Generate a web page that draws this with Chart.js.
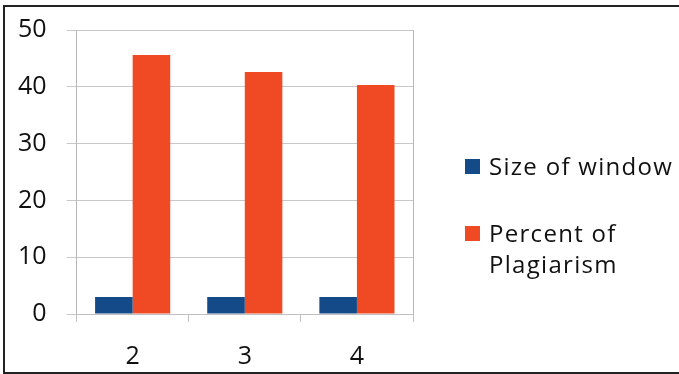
<!DOCTYPE html>
<html>
<head>
<meta charset="utf-8">
<script src="https://cdn.jsdelivr.net/npm/chart.js@4.4.1/dist/chart.umd.min.js"></script>
<style>
    html, body { margin: 0; padding: 0; background: #fff; }
    #wrap { position: relative; width: 679px; height: 374px; overflow: hidden; }
    #frame {
        position: absolute; left: 3px; top: 5px; width: 690px; height: 365px;
        border-left: 2px solid #222; border-top: 2px solid #222; border-bottom: 2px solid #222;
        pointer-events: none;
    }
    #legend {
        position: absolute; left: 465px; top: 150px;
        font-family: "Open Sans", sans-serif; font-size: 24px; color: #111; letter-spacing: 1.3px;
    }
    .item { display: flex; align-items: flex-start; margin-bottom: 36px; line-height: 31px; }
    .box { width: 15px; height: 15px; margin-top: 9px; margin-right: 9px; flex: none; }
</style>
</head>
<body>
<div id="wrap">
    <canvas id="barChart" width="679" height="374"></canvas>
    <div id="frame"></div>
    <div id="legend"></div>
</div>
<script>
const windowSizes = ["2", "3", "4"];
const sizeOfWindow = [3, 3, 3];
const percentPlagiarism = [45.6, 42.6, 40.3];
const seriesNames = ["Size of window", "Percent of<br>Plagiarism"];
const yTicks = [0, 10, 20, 30, 40, 50];

const htmlLegend = {
    id: "htmlLegend",
    afterUpdate(chart) {
        const el = document.getElementById("legend");
        el.innerHTML = chart.data.datasets.map((ds, i) =>
            '<div class="item"><span class="box" style="background:' + ds.backgroundColor + '"></span><span>' + seriesNames[i] + '</span></div>'
        ).join("");
    }
};

const ctx = document.getElementById("barChart").getContext("2d");
new Chart(ctx, {
    type: "bar",
    data: {
        labels: windowSizes,
        datasets: [{
            label: "Size of window",
            data: sizeOfWindow,
            backgroundColor: "#154a88",
            categoryPercentage: 0.67,
            barPercentage: 1.0,
        }, {
            label: "Percent of Plagiarism",
            data: percentPlagiarism,
            backgroundColor: "#f04a24",
            categoryPercentage: 0.67,
            barPercentage: 1.0,
        }]
    },
    options: {
        responsive: false,
        animation: false,
        layout: { padding: { left: -2, right: 266, top: 16, bottom: -18 } },
        plugins: { legend: { display: false }, tooltip: { enabled: false } },
        scales: {
            x: {
                grid: { offset: true, drawOnChartArea: false, tickLength: 8, color: "#c0c0c0" },
                border: { color: "#c0c0c0" },
                ticks: { font: { family: "Open Sans", size: 25 }, color: "#111", padding: 20 }
            },
            y: {
                min: 0,
                max: 50,
                afterBuildTicks: (axis) => { axis.ticks = yTicks.map(v => ({ value: v })); },
                grid: { color: "#c8c8c8", tickLength: 10 },
                border: { color: "#b8b8b8" },
                ticks: { font: { family: "Open Sans", size: 25, lineHeight: 0.8 }, color: "#111", padding: 20 }
            },
            y2: {
                position: "right",
                min: 0,
                max: 50,
                grid: { drawOnChartArea: false, drawTicks: false },
                border: { color: "#b8b8b8" },
                ticks: { display: false }
            }
        }
    },
    plugins: [htmlLegend]
});
</script>
</body>
</html>
